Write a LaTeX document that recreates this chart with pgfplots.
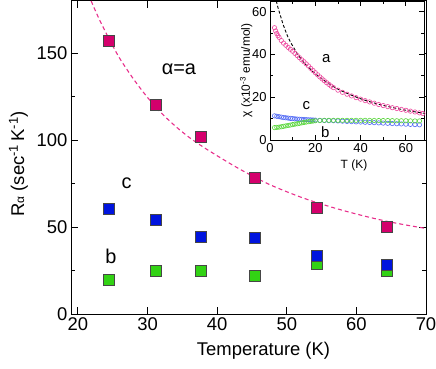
\documentclass[border=0pt]{standalone}
\usepackage{pgfplots}
\pgfplotsset{compat=1.18}
\usepackage{fontspec}
\setmainfont{Liberation Sans}

\definecolor{sqA}{RGB}{212,0,108}
\definecolor{sqB}{RGB}{50,210,20}
\definecolor{sqC}{RGB}{0,20,222}
\definecolor{edge}{RGB}{70,70,70}
\definecolor{fitA}{RGB}{232,48,140}
\definecolor{cirA}{RGB}{238,70,158}
\definecolor{cirB}{RGB}{90,215,60}
\definecolor{cirC}{RGB}{80,105,245}

\pgfplotsset{/pgf/number format/assume math mode=true}

\begin{document}
\begin{tikzpicture}
% main plot: relaxation rate vs temperature
\begin{axis}[
    at={(0,0)}, anchor=south west,
    scale only axis,
    width=355bp, height=313bp,
    xmin=19, xmax=70,
    ymin=0, ymax=180,
    xtick={20,30,40,50,60,70},
    ytick={0,50,100,150},
    minor y tick num=1,
    tick align=inside,
    major tick length=7bp,
    minor tick length=4bp,
    axis line style={line width=1pt},
    every tick/.style={line width=1pt, black},
    tick label style={font=\fontsize{18.5}{20}\selectfont},
    label style={font=\fontsize{18.5}{20}\selectfont},
    xlabel={Temperature (K)},
    xlabel style={xshift=15bp, yshift=-5bp},
    ylabel={R{\fontsize{12}{12}\selectfont α} (sec\textsuperscript{-1}\,K\textsuperscript{-1})},
    ylabel style={at={(axis description cs:-0.132,0.48)}, anchor=base, rotate=0},
]
% dashed guide through alpha=a
\addplot[fitA, line width=1.1pt, dash pattern=on 4bp off 3bp, smooth] coordinates {
(21.9,180) (23,170) (24.5,158) (26,147) (28,135) (30,124.5) (32,115.5)
(34,108) (36,101.5) (38,96) (40,91) (42.5,85) (45,79.5) (47.5,74.5)
(50,70.3) (52.5,66.5) (55,63.2) (57.5,60.2) (60,57.5) (62.5,55)
(65,52.8) (67.5,50.9) (70,49.2)
};
% alpha = a
\addplot[only marks, mark=square*, mark size=5.5pt,
    mark options={fill=sqA, draw=edge, line width=0.9pt}] coordinates {
(24.5,157) (31.2,120) (37.7,102) (45.4,78) (54.4,61) (64.4,50)
};
% alpha = b
\addplot[only marks, mark=square*, mark size=5.5pt,
    mark options={fill=sqB, draw=edge, line width=0.9pt}] coordinates {
(24.5,19.5) (31.2,24.7) (37.7,24.5) (45.4,21.7) (54.4,28.5) (64.4,25)
};
% alpha = c
\addplot[only marks, mark=square*, mark size=5.5pt,
    mark options={fill=sqC, draw=edge, line width=0.9pt}] coordinates {
(24.5,60.5) (31.2,54.3) (37.7,44.1) (45.4,43.6) (54.4,33.2) (64.4,28.4)
};
\node[font=\fontsize{20}{20}\selectfont] at (axis cs:34.5,141) {α=a};
\node[font=\fontsize{20}{20}\selectfont] at (axis cs:27,75) {c};
\node[font=\fontsize{20}{20}\selectfont] at (axis cs:24.75,33.4) {b};
\end{axis}

% inset: susceptibility
\begin{axis}[
    at={(199bp,313bp)}, anchor=north west,
    scale only axis,
    width=154bp, height=139bp,
    xmin=0, xmax=68,
    ymin=0, ymax=65,
    xtick={0,20,40,60},
    ytick={0,20,40,60},
    minor x tick num=1,
    minor y tick num=1,
    tick align=inside,
    major tick length=5bp,
    minor tick length=3bp,
    axis background/.style={fill=white},
    axis line style={line width=0.9pt},
    every tick/.style={line width=0.8pt, black},
    tick label style={font=\fontsize{13}{14}\selectfont},
    label style={font=\fontsize{12}{13}\selectfont},
    xlabel={T (K)},
    xlabel style={xshift=7bp},
    ylabel={χ (x10\textsuperscript{-3} emu/mol)},
    ylabel style={at={(axis description cs:-0.13,0.5)}, anchor=base, rotate=0},
]
\addplot[black, line width=0.9pt, dash pattern=on 3bp off 2bp, smooth] coordinates {
(2.8,65) (3.5,62) (4.5,58.5) (5.5,55) (6.5,52) (8,48) (10,44) (12,40.5)
(14,37.5) (16,35) (18,33) (20,31) (25,27) (30,23.8) (35,21.4) (40,19.3)
(45,17.6) (50,16.2) (55,15) (60,13.9) (65,13) (68,12.5)
};
\addplot[only marks, mark=o, mark size=2.2pt, cirA, mark options={line width=0.6pt}] coordinates {
(2,52.5) (2.5,51) (3,49.8) (3.5,48.8) (4,48) (5,46.5) (6,45.3) (7,44.3)
(8,43.3) (9,42.4) (10,41.5) (11,40.5) (12,39.5) (13,38.5) (14,37.5)
(15,36.6) (16,35.6) (17,34.6) (18,33.5) (19,32.5) (20,31.5) (21,30.5)
(22,29.5) (23,28.6) (24,27.7) (25,26.8) (26,26) (27,25.2) (28,24.5)
(30,23.3) (32,22.3) (34,21.4) (36,20.6) (38,19.8) (40,19.1) (42,18.4)
(44,17.8) (46,17.2) (48,16.6) (50,16.1) (52,15.6) (54,15.1) (56,14.7)
(58,14.3) (60,13.9) (62,13.5) (64,13.1) (66,12.7) (67.5,12.4)
};
\addplot[only marks, mark=o, mark size=2.2pt, cirC, mark options={line width=0.6pt}] coordinates {
(2,11.3) (3,11.1) (4,10.9) (5,10.7) (6,10.5) (7,10.4) (8,10.25) (9,10.1)
(10,10) (11,9.9) (12,9.8) (13,9.7) (14,9.65) (15,9.6) (16,9.5) (17,9.45)
(18,9.4) (19,9.35) (20,9.3) (22,9.2) (24,9.1) (26,9.05) (28,9) (30,8.9)
(32,8.8) (34,8.7) (36,8.6) (38,8.5) (40,8.4) (42,8.3) (44,8.2) (46,8.1)
(48,8) (50,7.9) (52,7.8) (54,7.7) (56,7.6) (58,7.5) (60,7.4) (62,7.3)
(64,7.2) (66,7.1)
};
\addplot[only marks, mark=o, mark size=2.2pt, cirB, mark options={line width=0.6pt}] coordinates {
(2,5.8) (3,5.9) (4,6) (5,6.2) (6,6.4) (7,6.6) (8,6.8) (9,7) (10,7.2)
(11,7.4) (12,7.6) (13,7.8) (14,8) (15,8.2) (16,8.4) (17,8.55) (18,8.7)
(19,8.85) (20,9) (22,9.1) (24,9.2) (26,9.2) (28,9.2) (30,9.2) (32,9.2)
(34,9.2) (36,9.2) (38,9.2) (40,9.2) (42,9.2) (44,9.15) (46,9.15) (48,9.1)
(50,9.1) (52,9.1) (54,9.05) (56,9) (58,9) (60,9) (62,8.95) (64,8.9) (66,8.9)
};
\node[font=\fontsize{15}{15}\selectfont] at (axis cs:24.9,38.1) {a};
\node[font=\fontsize{15}{15}\selectfont] at (axis cs:16.1,15.9) {c};
\node[font=\fontsize{15}{15}\selectfont] at (axis cs:24.4,3.5) {b};
\end{axis}

\pgfresetboundingbox
\path[use as bounding box] (-71bp,-55bp) rectangle (365bp,314bp);
\end{tikzpicture}
\end{document}
